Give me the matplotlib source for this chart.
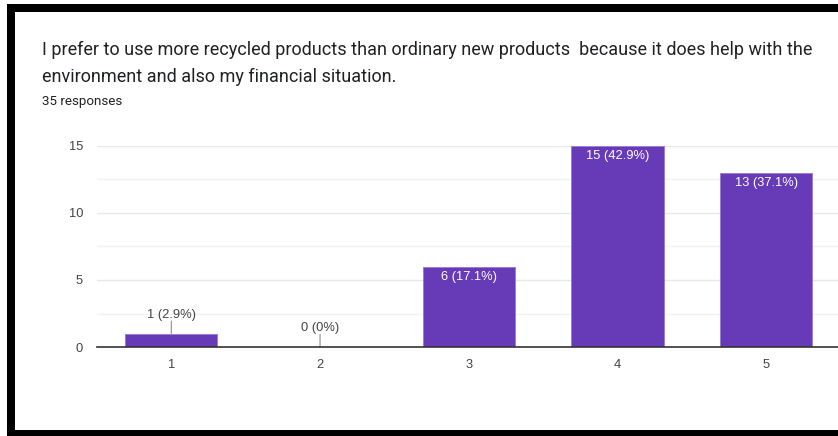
import matplotlib.pyplot as plt
from matplotlib.patches import Rectangle

# survey answers on a 1-5 scale
categories = ["1", "2", "3", "4", "5"]
counts = [1, 0, 6, 15, 13]
total = 35
percent_labels = ["2.9%", "0%", "17.1%", "42.9%", "37.1%"]

question_lines = [
    "I prefer to use more recycled products than ordinary new products  because it does help with the",
    "environment and also my financial situation.",
]
subtitle = f"{total} responses"

W, H = 838, 436
fig = plt.figure(figsize=(W / 100, H / 100), dpi=100)
fig.patch.set_facecolor("white")

# plot box in pixel units
px_left, px_right, px_top, px_bottom = 97, 840.5, 146, 347
ax = fig.add_axes([px_left / W, 1 - px_bottom / H,
                   (px_right - px_left) / W, (px_bottom - px_top) / H])

purple = "#673ab7"
x = list(range(len(categories)))
ax.bar(x, counts, width=0.62, color=purple, edgecolor="#9b7fd4", linewidth=0.7, zorder=3)

ax.set_xlim(-0.5, 4.5)
ax.set_ylim(0, 15)
ax.set_yticks([0, 5, 10, 15])
ax.set_yticks([2.5, 7.5, 12.5], minor=True)
ax.set_xticks(x)
ax.set_xticklabels(categories)

label_family = ["Liberation Sans", "DejaVu Sans"]
for lab in ax.get_xticklabels() + ax.get_yticklabels():
    lab.set_fontfamily(label_family)
    lab.set_fontsize(9.3)
    lab.set_color("#444444")
ax.tick_params(axis="both", which="both", length=0)
ax.tick_params(axis="x", pad=9)
ax.tick_params(axis="y", pad=10)

ax.grid(axis="y", which="major", color="#e8e8e8", linewidth=1, zorder=0)
ax.grid(axis="y", which="minor", color="#f2f2f2", linewidth=1, zorder=0)
for side in ["top", "right", "left"]:
    ax.spines[side].set_visible(False)
ax.spines["bottom"].set_color("#333333")
ax.spines["bottom"].set_linewidth(1.2)
ax.spines["bottom"].set_zorder(4)

# value labels: inside tall bars, above short ones with a leader line
for xi, c, p in zip(x, counts, percent_labels):
    text = f"{c} ({p})"
    if c >= 3:
        ax.annotate(text, (xi, c), xytext=(0, -10 * 0.72), textcoords="offset points",
                    ha="center", va="center", color="white",
                    fontfamily=label_family, fontsize=9.3, zorder=5)
    else:
        ax.annotate(text, (xi, c), xytext=(0, 19 * 0.72), textcoords="offset points",
                    ha="center", va="center", color="#444444",
                    fontfamily=label_family, fontsize=9.3, zorder=5)
        ax.annotate("", (xi, c), xytext=(0, 12.5 * 0.72), textcoords="offset points",
                    arrowprops=dict(arrowstyle="-", color="#999999", linewidth=0.9,
                                    shrinkA=0, shrinkB=0), zorder=4)

# heading
for i, line in enumerate(question_lines):
    fig.text(42 / W, 1 - (50 + 27 * i) / H, line, ha="left", va="center",
             fontfamily=["Roboto", "DejaVu Sans"], fontsize=13, color="#202124")
fig.text(42 / W, 1 - 101 / H, subtitle, ha="left", va="center", fontfamily=["Roboto", "DejaVu Sans"],
         fontsize=9.6, color="#202124")

# black frame around the card (top, left, bottom)
def frame_bar(x0, y0, w, h):
    return Rectangle((x0 / W, 1 - (y0 + h) / H), w / W, h / H, transform=fig.transFigure,
                     facecolor="black", edgecolor="none", zorder=10)

fig.add_artist(frame_bar(7, 4, W - 7, 8))
fig.add_artist(frame_bar(7, 4, 8, H - 4))
fig.add_artist(frame_bar(7, 430, W - 7, 6))

fig.savefig("out.png", dpi=100, facecolor="white")
